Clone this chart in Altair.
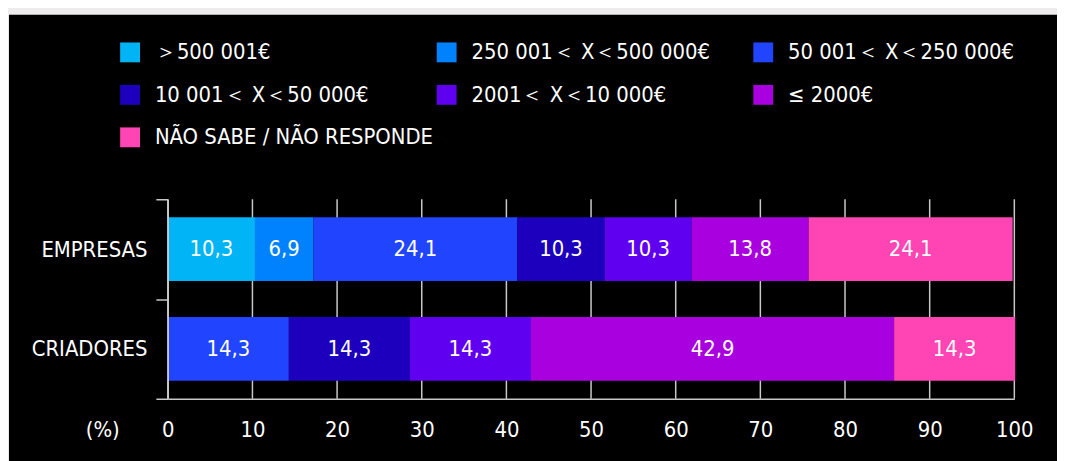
import altair as alt
import pandas as pd

# ---- data ----
categories = ["EMPRESAS", "CRIADORES"]
ranges = [
    "＞500 001€",
    "250 001＜ X＜500 000€",
    "50 001＜ X＜250 000€",
    "10 001＜ X＜50 000€",
    "2001＜ X＜10 000€",
    "≤ 2000€",
    "NÃO SABE / NÃO RESPONDE",
]
empresas = [10.3, 6.9, 24.1, 10.3, 10.3, 13.8, 24.1]
criadores = [0, 0, 14.3, 14.3, 14.3, 42.9, 14.3]
colors = ["#00B4F5", "#0082FF", "#2145FF", "#1C00BE", "#5F00F0", "#A800DE", "#FF44B3"]
x_ticks = [0, 10, 20, 30, 40, 50, 60, 70, 80, 90, 100]

rows = []
for cat, vals in zip(categories, [empresas, criadores]):
    for i, (r, v) in enumerate(zip(ranges, vals)):
        if v > 0:
            rows.append({"grupo": cat, "faixa": r, "valor": v, "ordem": i,
                         "rotulo": f"{v:.1f}".replace(".", ",")})
df = pd.DataFrame(rows)

FONT = "DejaVu Sans Condensed, sans-serif"
FS = 22
GRID = "#c8c8c8"

x_scale = alt.Scale(domain=[0, 100], nice=False)
x_axis = alt.Axis(values=x_ticks, grid=False, ticks=False, domainColor=GRID, domainWidth=1.5,
                  labelColor="#ffffff", labelFontSize=FS, labelFont=FONT,
                  labelBaseline="middle", labelPadding=31, labelFlush=False,
                  title="(%)", titleX=-66, titleY=31, titleAlign="center",
                  titleBaseline="middle", titleColor="#ffffff", titleFontSize=FS,
                  titleFont=FONT, titleFontWeight="normal", titleAngle=0, zindex=1)
y_scale = alt.Scale(paddingInner=0, paddingOuter=0)
y_axis = alt.Axis(tickBand="extent", tickSize=12, tickColor=GRID, tickWidth=1.5,
                  domainColor=GRID, domainWidth=1.5, labelColor="#ffffff",
                  labelFontSize=FS, labelFont=FONT, labelPadding=9, grid=False, zindex=1)

# black panel behind everything (decoration)
panel = alt.Chart(pd.DataFrame({"k": [0]})).mark_rect(color="#000000").encode(
    x=alt.value(-160), x2=alt.value(900), y=alt.value(-186), y2=alt.value(300)
)

grid = alt.Chart(pd.DataFrame({"t": x_ticks})).mark_rule(color=GRID, strokeWidth=1.5).encode(
    x=alt.X("t:Q", scale=x_scale, axis=x_axis), y=alt.value(0), y2=alt.value(201)
)

base = alt.Chart(df).transform_stack(
    stack="valor", groupby=["grupo"], as_=["x0", "x1"], sort=[alt.SortField("ordem")]
).transform_calculate(mid="(datum.x0 + datum.x1) / 2")

bars = base.mark_bar(height=alt.RelativeBandSize(0.64)).encode(
    x=alt.X("x0:Q", scale=x_scale, axis=x_axis),
    x2="x1:Q",
    y=alt.Y("grupo:N", sort=categories, title=None, scale=y_scale, axis=y_axis),
    color=alt.Color(
        "faixa:N", sort=ranges,
        scale=alt.Scale(domain=ranges, range=colors),
        legend=alt.Legend(
            title=None, orient="none", legendX=-49, legendY=-159, columns=3,
            direction="horizontal",
            symbolType="square", symbolSize=400, symbolStrokeWidth=0, symbolOpacity=1,
            labelColor="#ffffff", labelFontSize=FS, labelFont=FONT, labelOffset=14,
            labelLimit=400, rowPadding=20.8, columnPadding=2, gridAlign="all", padding=0,
        ),
    ),
    order=alt.Order("ordem:Q"),
)

labels = base.mark_text(color="#ffffff", fontSize=FS, font=FONT, baseline="middle").encode(
    x=alt.X("mid:Q", scale=x_scale, axis=x_axis),
    y=alt.Y("grupo:N", sort=categories, title=None, scale=y_scale, axis=y_axis),
    text="rotulo:N",
)

chart = alt.layer(panel, grid, bars, labels).properties(
    width=853, height=201,
    padding={"left": 161, "top": 191, "right": 43, "bottom": 61},
    autosize=alt.AutoSizeParams(type="none"),
    background="#eeeced",
).configure_view(stroke=None)

chart.save("out.html", embed_options={"renderer": "svg", "actions": False})
